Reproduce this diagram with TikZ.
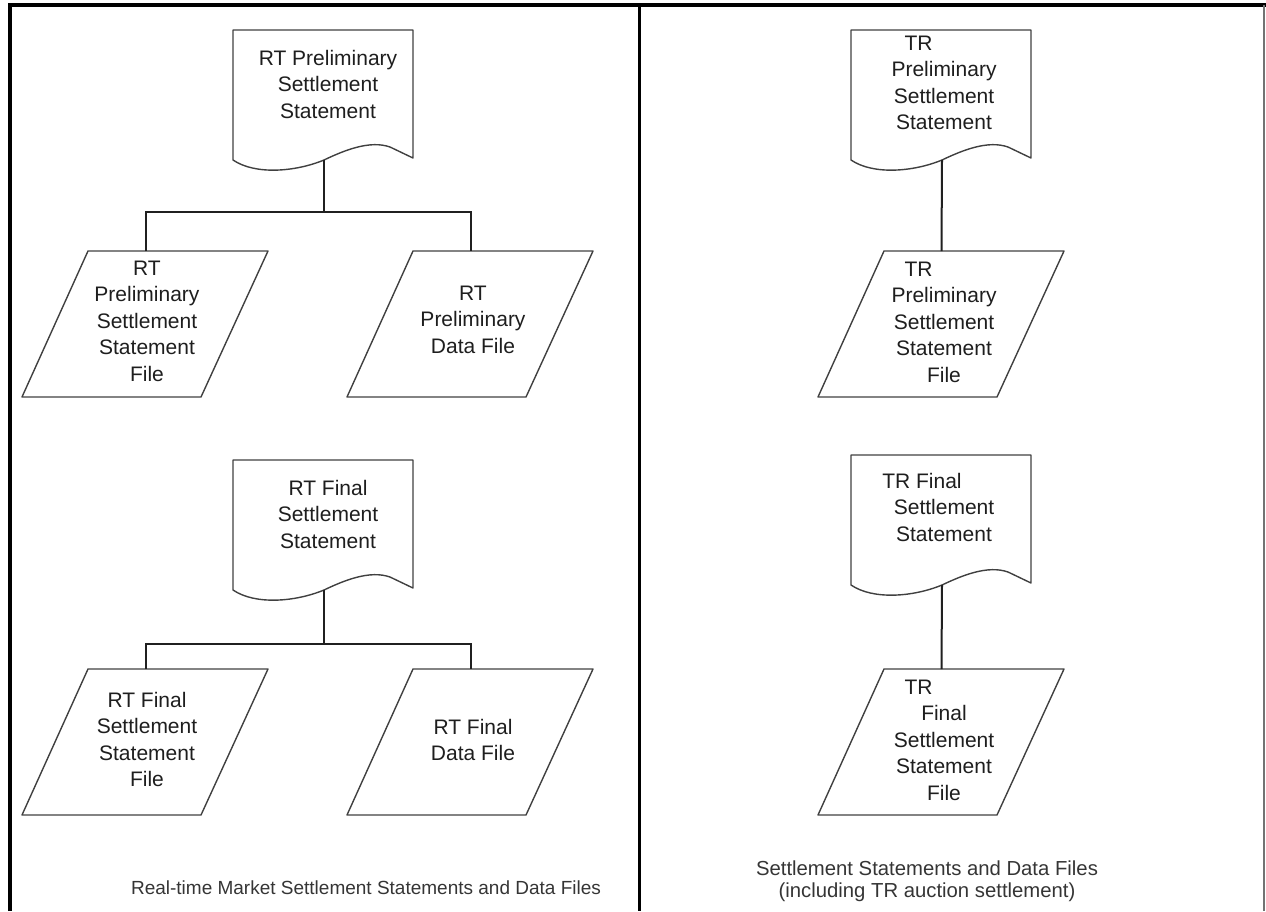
\documentclass[tikz,border=0pt]{standalone}
\usepackage{fontspec}
\setmainfont{Liberation Sans}
\definecolor{txt}{HTML}{1E1E1E}
\definecolor{outl}{HTML}{404040}
\definecolor{conn}{HTML}{202020}
\begin{document}
\begin{tikzpicture}[x=1pt,y=-1pt,
  shapeline/.style={draw=outl,line width=1.4pt,line join=round},
  connline/.style={draw=conn,line width=2pt},
  lbl/.style={inner sep=0pt,anchor=north,align=center,text=txt,font=\fontsize{21}{26.5}\selectfont},
  captext/.style={inner sep=0pt,anchor=north,align=center,text=txt!90},
  docshape/.pic={
    \draw[shapeline] (0,0) -- (0,130) .. controls (22,145) and (62,142) .. (91,130)
      .. controls (112,120) and (137,110) .. (157,117) -- (180,128) -- (180,0) -- cycle;
    \coordinate (-b) at (91,130);
  },
  parashape/.pic={
    \draw[shapeline] (66,0) -- (246,0) -- (179,146) -- (0,146) -- cycle;
    \coordinate (-t) at (123.5,0);
  }
]
\useasboundingbox (0,0) rectangle (1266,911);

% frame
\draw[line width=4pt,black] (10,911) -- (10,5) -- (1266,5);
\draw[line width=3pt,black] (639,5) -- (639,911);
\draw[line width=2pt,black!55] (1264,5) -- (1264,911);

% left column shapes
\pic (d1) at (233,30) {docshape};
\pic (p1) at (22,251) {parashape};
\pic (p2) at (347,251) {parashape};
\pic (d2) at (233,460) {docshape};
\pic (p3) at (22,669) {parashape};
\pic (p4) at (347,669) {parashape};

% right column shapes
\pic (d3) at (851,30) {docshape};
\pic (p5) at (818,251) {parashape};
\pic (d4) at (851,455) {docshape};
\pic (p6) at (818,669) {parashape};

% connectors
\coordinate (j1) at (324,212);
\coordinate (j2) at (324,644);
\draw[connline] (d1-b) -- (j1);
\draw[connline] (p1-t) |- (j1) -| (p2-t);
\draw[connline] (d2-b) -- (j2);
\draw[connline] (p3-t) |- (j2) -| (p4-t);
\draw[connline] (d3-b) -- (p5-t);
\draw[connline] (d4-b) -- (p6-t);

% labels
\node[lbl] (t1) at (328,49.8) {RT Preliminary\\Settlement\\Statement};
\node[lbl] (t2) at (147,260.8) {RT\\Preliminary\\Settlement\\Statement\\File};
\node[lbl] (t3) at (473,285.8) {RT\\Preliminary\\Data File};
\node[lbl] (t4) at (328,479.8) {RT Final\\Settlement\\Statement};
\node[lbl] (t5) at (147,691.8) {RT Final\\Settlement\\Statement\\File};
\node[lbl] (t6) at (473,719) {RT Final\\Data File};
\node[lbl] (t7) at (944,35.8) {TR\hspace*{51pt}\\Preliminary\\Settlement\\Statement};
\node[lbl] (t8) at (944,261.8) {TR\hspace*{51pt}\\Preliminary\\Settlement\\Statement\\File};
\node[lbl] (t9) at (944,472.8) {TR Final\hspace*{44pt}\\Settlement\\Statement};
\node[lbl] (t10) at (944,679.8) {TR\hspace*{51pt}\\Final\\Settlement\\Statement\\File};

% captions
\node[captext,font=\fontsize{19}{22}\selectfont] (c1) at (366,881) {Real-time Market Settlement Statements and Data Files};
\node[captext,font=\fontsize{20.3}{22}\selectfont] (c2) at (927,860.5) {Settlement Statements and Data Files\\(including TR auction settlement)};
\end{tikzpicture}
\end{document}
